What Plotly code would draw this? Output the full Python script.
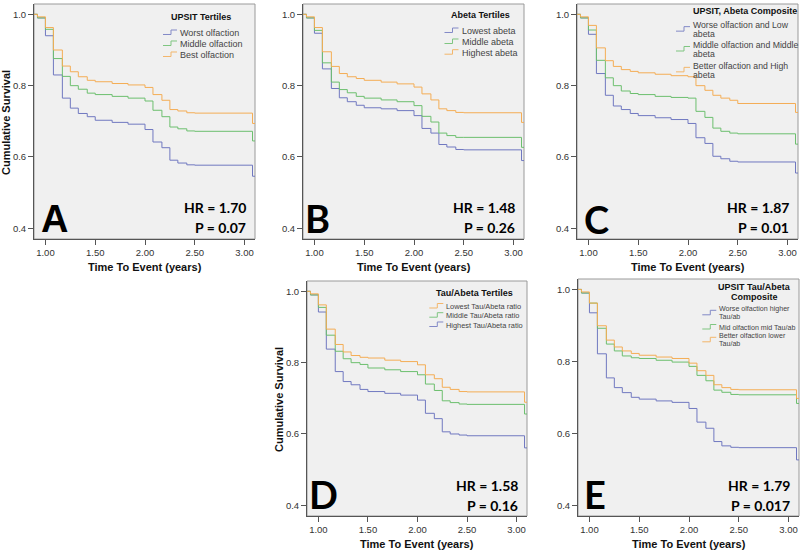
import plotly.graph_objects as go

W, H = 800, 551

# ---------------- data ----------------
times = [0.0, 0.92, 1.0, 1.08, 1.17, 1.25, 1.33, 1.42, 1.5, 1.67, 1.83, 2.0,
         2.08, 2.17, 2.25, 2.33, 2.42, 2.5, 3.08, 3.12]

a_worst = [1.0, 0.99, 0.94, 0.83, 0.765, 0.737, 0.722, 0.713, 0.703, 0.697, 0.692, 0.677,
           0.642, 0.626, 0.591, 0.583, 0.578, 0.577, 0.546, 0.546]
a_middle = [1.0, 0.99, 0.958, 0.876, 0.826, 0.80, 0.79, 0.779, 0.775, 0.77, 0.765, 0.757,
            0.731, 0.713, 0.684, 0.679, 0.673, 0.672, 0.645, 0.645]
a_best = [1.0, 0.993, 0.963, 0.90, 0.855, 0.839, 0.825, 0.815, 0.811, 0.806, 0.802, 0.795,
          0.775, 0.759, 0.733, 0.729, 0.724, 0.723, 0.694, 0.694]

b_lowest = [1.0, 0.99, 0.947, 0.847, 0.792, 0.766, 0.755, 0.745, 0.738, 0.735, 0.73, 0.716,
            0.68, 0.667, 0.635, 0.628, 0.621, 0.62, 0.59, 0.59]
b_middle = [1.0, 0.99, 0.955, 0.864, 0.81, 0.789, 0.78, 0.77, 0.765, 0.76, 0.755, 0.744,
            0.714, 0.698, 0.667, 0.66, 0.655, 0.655, 0.627, 0.627]
b_highest = [1.0, 0.993, 0.963, 0.895, 0.854, 0.834, 0.825, 0.82, 0.815, 0.81, 0.805, 0.796,
             0.777, 0.76, 0.735, 0.73, 0.725, 0.724, 0.697, 0.697]

c_worse = [1.0, 0.99, 0.944, 0.834, 0.773, 0.743, 0.733, 0.722, 0.716, 0.71, 0.705, 0.694,
           0.654, 0.638, 0.602, 0.595, 0.588, 0.586, 0.555, 0.555]
c_middle = [1.0, 0.99, 0.956, 0.871, 0.822, 0.80, 0.785, 0.778, 0.775, 0.77, 0.767, 0.765,
            0.728, 0.711, 0.681, 0.672, 0.667, 0.665, 0.636, 0.636]
c_better = [1.0, 0.993, 0.969, 0.906, 0.87, 0.854, 0.845, 0.84, 0.836, 0.832, 0.828, 0.825,
            0.80, 0.787, 0.773, 0.765, 0.759, 0.75, 0.725, 0.725]

d_lowest = [1.0, 0.993, 0.962, 0.894, 0.851, 0.83, 0.82, 0.815, 0.813, 0.807, 0.803, 0.794,
            0.766, 0.755, 0.731, 0.725, 0.719, 0.718, 0.689, 0.689]
d_middle = [1.0, 0.99, 0.955, 0.877, 0.832, 0.811, 0.80, 0.795, 0.785, 0.78, 0.775, 0.766,
            0.74, 0.722, 0.693, 0.688, 0.684, 0.683, 0.656, 0.656]
d_highest = [1.0, 0.99, 0.942, 0.838, 0.775, 0.747, 0.738, 0.725, 0.719, 0.714, 0.709, 0.695,
             0.658, 0.643, 0.606, 0.60, 0.597, 0.595, 0.561, 0.561]

e_worse = [1.0, 0.99, 0.935, 0.821, 0.754, 0.727, 0.713, 0.70, 0.695, 0.69, 0.686, 0.669,
           0.631, 0.614, 0.577, 0.565, 0.561, 0.56, 0.526, 0.526]
e_mid = [1.0, 0.99, 0.962, 0.892, 0.848, 0.829, 0.815, 0.81, 0.808, 0.803, 0.798, 0.786,
         0.761, 0.746, 0.72, 0.714, 0.708, 0.707, 0.683, 0.683]
e_better = [1.0, 0.993, 0.962, 0.899, 0.859, 0.84, 0.829, 0.822, 0.817, 0.812, 0.808, 0.795,
            0.774, 0.761, 0.735, 0.727, 0.722, 0.721, 0.697, 0.697]

a_labels = [["Worst olfaction"], ["Middle olfaction"], ["Best olfaction"]]
b_labels = [["Lowest abeta"], ["Middle abeta"], ["Highest abeta"]]
c_labels = [["Worse olfaction and Low", "abeta"], ["Middle olfaction and Middle", "abeta"],
            ["Better olfaction and High", "abeta"]]
d_labels = [["Lowest Tau/Abeta ratio"], ["Middle Tau/Abeta ratio"], ["Highest Tau/Abeta ratio"]]
e_labels = [["Worse olfaction higher", "Tau/ab"], ["Mid olfaction mid Tau/ab"],
            ["Better olfaction lower", "Tau/ab"]]

x_ticks = [1.0, 1.5, 2.0, 2.5, 3.0]
y_ticks = [0.4, 0.6, 0.8, 1.0]

# ---------------- styling ----------------
BLUE = "#7078c0"
GREEN = "#6cbf6e"
ORANGE = "#f4ad55"
FONT = "Liberation Sans, Arial, sans-serif"
FONT2 = "Lato, Liberation Sans, sans-serif"

def px(x):
    return x / W

def py(y):
    return 1 - y / H

panels = [
    dict(letter="A", letter_font=FONT, box=(34, 4, 255, 239),
         series=[(a_worst, BLUE), (a_middle, GREEN), (a_best, ORANGE)],
         hr="HR = 1.70", p="P = 0.07", ytitle=True,
         leg_title=["UPSIT Tertiles"], leg_title_xy=(201, 17), leg_title_size=9,
         leg_labels=a_labels, leg_colors=[BLUE, GREEN, ORANGE], leg_x=178,
         leg_lines=[[33], [44], [55]], leg_size=9, letter_xy=(54, 219)),
    dict(letter="B", letter_font=FONT2, box=(303, 4, 524, 239),
         series=[(b_lowest, BLUE), (b_middle, GREEN), (b_highest, ORANGE)],
         hr="HR = 1.48", p="P = 0.26", ytitle=False,
         leg_title=["Abeta Tertiles"], leg_title_xy=(481, 15.5), leg_title_size=9,
         leg_labels=b_labels, leg_colors=[BLUE, GREEN, ORANGE], leg_x=459.5,
         leg_lines=[[31], [42], [52.7]], leg_size=9, letter_xy=(317, 218)),
    dict(letter="C", letter_font=FONT2, box=(577, 4, 798, 239),
         series=[(c_worse, BLUE), (c_middle, GREEN), (c_better, ORANGE)],
         hr="HR = 1.87", p="P = 0.01", ytitle=False,
         leg_title=["UPSIT, Abeta Composite"], leg_title_xy=(745, 10.5), leg_title_size=9,
         leg_labels=c_labels, leg_colors=[BLUE, GREEN, ORANGE], leg_x=691,
         leg_lines=[[25, 34.3], [45, 54], [65.7, 75]], leg_size=8.7, letter_xy=(596, 219)),
    dict(letter="D", letter_font=FONT2, box=(307, 281, 527, 516),
         series=[(d_highest, BLUE), (d_middle, GREEN), (d_lowest, ORANGE)],
         hr="HR = 1.58", p="P = 0.16", ytitle=True,
         leg_title=["Tau/Abeta Tertiles"], leg_title_xy=(474, 292.7), leg_title_size=9,
         leg_labels=d_labels, leg_colors=[ORANGE, GREEN, BLUE], leg_x=444.3,
         leg_lines=[[306.5], [315.7], [325]], leg_size=7.4, letter_xy=(323, 494)),
    dict(letter="E", letter_font=FONT2, box=(578, 279, 799, 516),
         series=[(e_worse, BLUE), (e_mid, GREEN), (e_better, ORANGE)],
         hr="HR = 1.79", p="P = 0.017", ytitle=False,
         leg_title=["UPSIT Tau/Abeta", "Composite"], leg_title_xy=(754, 287.3), leg_title_size=9,
         leg_labels=e_labels, leg_colors=[BLUE, GREEN, ORANGE], leg_x=717.3,
         leg_lines=[[309.3, 317.3], [327.5], [336.3, 344.3]], leg_size=7.1, letter_xy=(595, 494)),
]

fig = go.Figure()
annotations = []
shapes = []
layout = {}

for i, pn in enumerate(panels):
    n = "" if i == 0 else str(i + 1)
    xa, ya = "x" + n, "y" + n
    x0, y0, x1, y1 = pn["box"]
    for vals, col in pn["series"]:
        fig.add_trace(go.Scatter(x=times, y=vals, mode="lines", line=dict(color=col, width=1, shape="hv"),
                                 xaxis=xa, yaxis=ya, showlegend=False, hoverinfo="skip"))
    layout["xaxis" + n] = dict(domain=[px(x0), px(x1)], anchor=ya, range=[0.885, 3.105],
                               tickvals=x_ticks, tickformat=".2f", ticks="outside", ticklen=5,
                               tickcolor="#555", showline=True, linecolor="#555", linewidth=1,
                               showgrid=False, zeroline=False,
                               tickfont=dict(family=FONT, size=9.5, color="#333"))
    layout["yaxis" + n] = dict(domain=[py(y1), py(y0)], anchor=xa, range=[0.37, 1.029],
                               tickvals=y_ticks, tickformat=".1f", ticks="outside", ticklen=5,
                               tickcolor="#555", showline=True, linecolor="#555", linewidth=1,
                               showgrid=False, zeroline=False,
                               tickfont=dict(family=FONT, size=9.5, color="#333"))
    # plot area background + frame
    shapes.append(dict(type="rect", xref="paper", yref="paper", x0=px(x0), x1=px(x1),
                       y0=py(y1), y1=py(y0), fillcolor="#f0f0f0",
                       line=dict(color="#9a9a9a", width=1), layer="below"))
    # axis titles
    cx = (x0 + x1) / 2
    annotations.append(dict(x=px(cx), y=py(y1 + 28), xref="paper", yref="paper",
                            text="<b>Time To Event (years)</b>", showarrow=False,
                            font=dict(family=FONT, size=11, color="#111"),
                            xanchor="center", yanchor="middle"))
    if pn["ytitle"]:
        annotations.append(dict(x=px(x0 - 28.5), y=py((y0 + y1) / 2 + 1), xref="paper", yref="paper",
                                text="<b>Cumulative Survival</b>", showarrow=False, textangle=-90,
                                font=dict(family=FONT, size=11, color="#111"),
                                xanchor="center", yanchor="middle"))
    # big letter
    lx, ly = pn["letter_xy"]
    annotations.append(dict(x=px(lx), y=py(ly), xref="paper", yref="paper",
                            text="<b>" + pn["letter"] + "</b>", showarrow=False,
                            font=dict(family=pn["letter_font"], size=38, color="#000"),
                            xanchor="center", yanchor="middle"))
    # HR / P text
    rx = x1 - 7
    annotations.append(dict(x=px(rx), y=py(y1 - 31), xref="paper", yref="paper",
                            text="<b>" + pn["hr"] + "</b>", showarrow=False,
                            font=dict(family=FONT2, size=14, color="#000"),
                            xanchor="right", yanchor="middle"))
    annotations.append(dict(x=px(rx), y=py(y1 - 11), xref="paper", yref="paper",
                            text="<b>" + pn["p"] + "</b>", showarrow=False,
                            font=dict(family=FONT2, size=14, color="#000"),
                            xanchor="right", yanchor="middle"))
    # legend title
    tx, ty = pn["leg_title_xy"]
    for k, line in enumerate(pn["leg_title"]):
        annotations.append(dict(x=px(tx), y=py(ty + k * 9.5), xref="paper", yref="paper",
                                text="<b>" + line + "</b>", showarrow=False,
                                font=dict(family=FONT, size=pn["leg_title_size"], color="#111"),
                                xanchor="center", yanchor="middle"))
    # legend entries
    lxt = pn["leg_x"]
    for lab, ys, col in zip(pn["leg_labels"], pn["leg_lines"], pn["leg_colors"]):
        for line, yy in zip(lab, ys):
            annotations.append(dict(x=px(lxt), y=py(yy), xref="paper", yref="paper",
                                    text=line, showarrow=False,
                                    font=dict(family=FONT, size=pn["leg_size"], color="#444"),
                                    xanchor="left", yanchor="middle"))
        c = (ys[0] + ys[-1]) / 2 - 0.5
        path = "M {:.5f},{:.5f} L {:.5f},{:.5f} L {:.5f},{:.5f} L {:.5f},{:.5f}".format(
            px(lxt - 15), py(c + 2), px(lxt - 7), py(c + 2), px(lxt - 7), py(c - 2.5),
            px(lxt - 1), py(c - 2.5))
        shapes.append(dict(type="path", xref="paper", yref="paper", path=path,
                           line=dict(color=col, width=1), opacity=0.85))

fig.update_layout(**layout)
fig.update_layout(width=W, height=H, margin=dict(l=0, r=0, t=0, b=0),
                  paper_bgcolor="white", plot_bgcolor="rgba(0,0,0,0)",
                  showlegend=False, annotations=annotations, shapes=shapes,
                  font=dict(family=FONT))
fig.write_html("out.html", config={"displayModeBar": False, "staticPlot": True},
               post_script="document.body.style.margin='0';document.body.style.overflow='hidden';")
